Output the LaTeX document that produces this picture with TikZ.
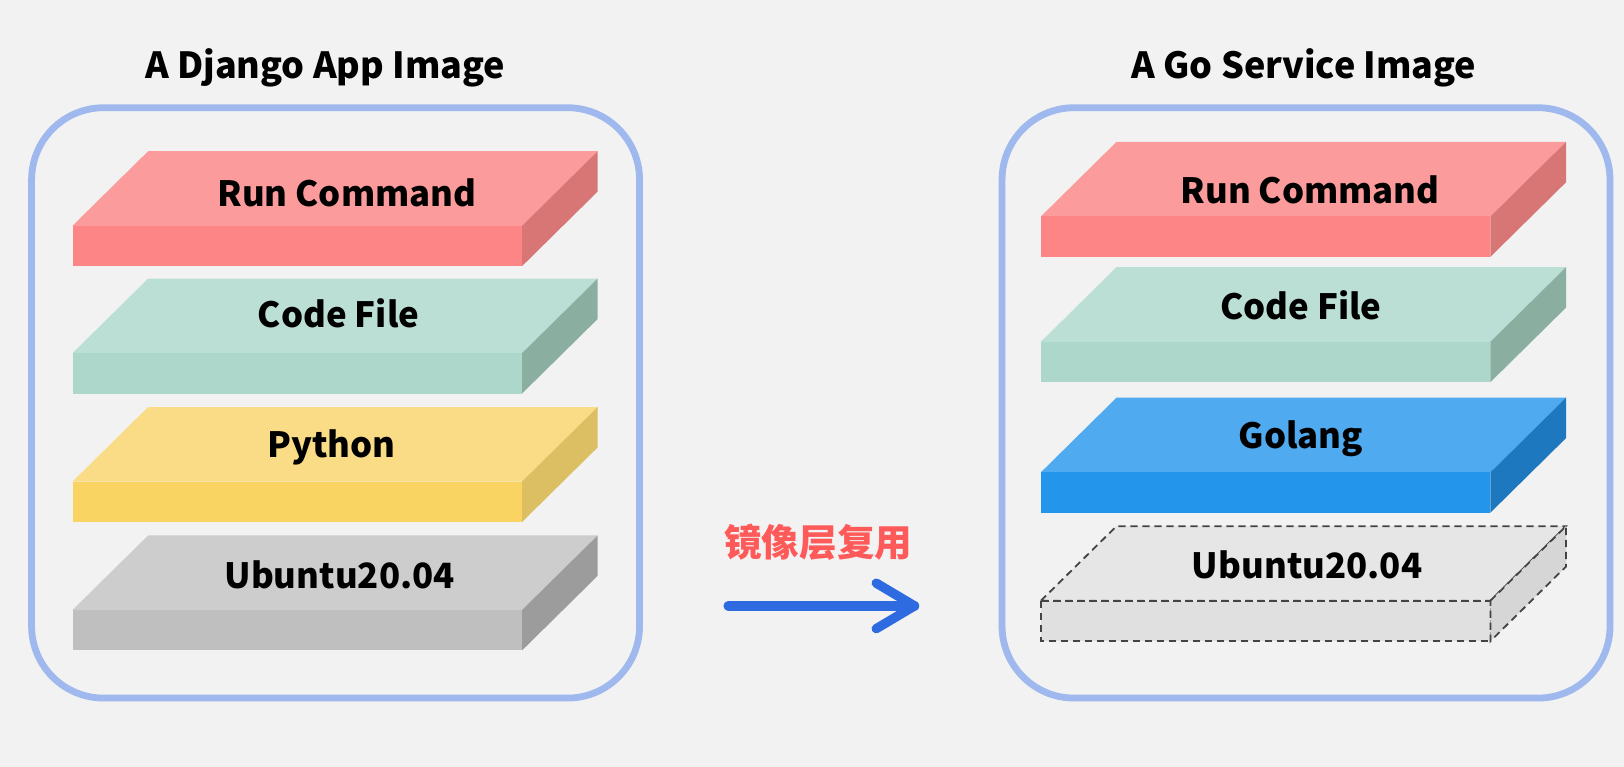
\documentclass[tikz,border=0pt]{standalone}
\usepackage{fontspec}
\setmainfont{Noto Sans CJK SC}
\newfontfamily\cjk{Noto Sans CJK SC}
\usetikzlibrary{calc}
\definecolor{bg}{HTML}{F2F2F2}
\definecolor{frameblue}{HTML}{9FB9EE}
\definecolor{rcT}{HTML}{FC9B9B}
\definecolor{rcF}{HTML}{FD8585}
\definecolor{rcS}{HTML}{D87676}
\definecolor{cfT}{HTML}{BBDFD4}
\definecolor{cfF}{HTML}{ADD7CB}
\definecolor{cfS}{HTML}{8AAFA1}
\definecolor{pyT}{HTML}{F9DC85}
\definecolor{pyF}{HTML}{F9D462}
\definecolor{pyS}{HTML}{DCBF62}
\definecolor{ubT}{HTML}{CDCDCD}
\definecolor{ubF}{HTML}{BFBFBF}
\definecolor{ubS}{HTML}{9C9C9C}
\definecolor{goT}{HTML}{4FAAF0}
\definecolor{goF}{HTML}{2396EC}
\definecolor{goS}{HTML}{1E78C0}
\definecolor{dsT}{HTML}{E6E6E6}
\definecolor{dsF}{HTML}{E0E0E0}
\definecolor{dsS}{HTML}{D6D6D6}
\definecolor{dashgray}{HTML}{444444}
\definecolor{reuse}{HTML}{FF5A5A}
\definecolor{arrowblue}{HTML}{2F6BE0}
\newcommand\layerbox[5][]{%
  \coordinate (#2) at (#3,#4);
  \fill[#5T,#1] (#2) -- ++(73,-72) -- ++(434,0) -- ++(-73,72) -- cycle;
  \fill[#5F,#1] (#2) rectangle ++(434,39);
  \fill[#5S,#1] ($(#2)+(434,0)$) -- ++(73,-72) -- ++(0,39) -- ++(-73,72) -- cycle;
}
\tikzset{
  frame/.style={draw=frameblue, line width=3.4pt, rounded corners=36pt},
  title/.style={anchor=base, font=\bfseries\fontsize{18}{21}\selectfont},
  label/.style={anchor=base, font=\bfseries\fontsize{17.4}{21}\selectfont},
  dashedlayer/.style={draw=dashgray, dash pattern=on 3.6pt off 2.4pt, line width=0.9pt},
}
\begin{document}
\begin{tikzpicture}[x=0.517857pt, y=-0.517857pt]
\fill[bg] (0,0) rectangle (1568,740.5);
\useasboundingbox (0,0) rectangle (1568,740.5);
% titles
\node[title] (t1) at (314,76) {A Django App Image};
\node[title] (t2) at (1259,76) {A Go Service Image};
% frames
\draw[frame] (30.5,104) rectangle (617.5,674);
\draw[frame] (967.5,104) rectangle (1554.5,674);
% left layers
\layerbox{L1}{70}{218}{rc}
\layerbox{L2}{70}{341}{cf}
\layerbox{L3}{70}{465}{py}
\layerbox{L4}{70}{589}{ub}
\node[label] (l1) at (335,199) {Run Command};
\node[label] (l2) at (327,316) {Code File};
\node[label] (l3) at (320,442) {Python};
\node[label] (l4) at (328,568) {Ubuntu20.04};
% right layers
\layerbox{R1}{1005}{209}{rc}
\layerbox{R2}{1005}{330}{cf}
\layerbox{R3}{1005}{456}{go}
\layerbox[dashedlayer]{R4}{1005}{580}{ds}
\node[label] (r1) at (1265,196) {Run Command};
\node[label] (r2) at (1256,308) {Code File};
\node[label] (r3) at (1256,433) {Golang};
\node[label] (r4) at (1262,559) {Ubuntu20.04};
% reuse label and arrow
\node[text=reuse, font=\cjk\bfseries\fontsize{18.8}{22}\selectfont] (reuse) at (790,524) {镜像层复用};
\coordinate (a1) at (703,585);
\coordinate (a2) at (883,585);
\coordinate (h1) at (846,563);
\coordinate (h2) at (846,607);
\draw[arrowblue, line width=4.66pt, line cap=round, line join=round] (a1) -- (a2);
\draw[arrowblue, line width=4.66pt, line cap=round, line join=round] (h1) -- (a2) -- (h2);
\end{tikzpicture}
\end{document}
